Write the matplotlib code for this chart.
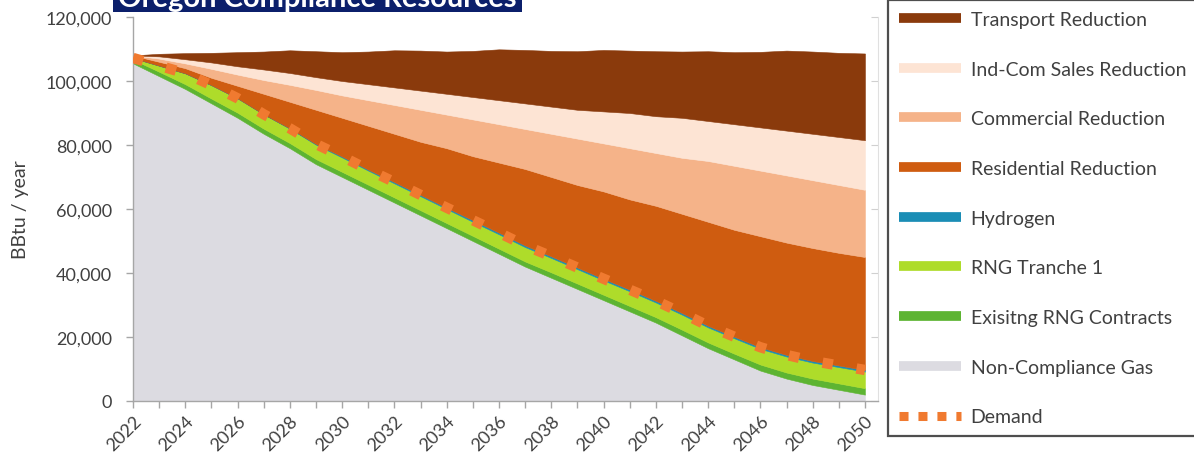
import matplotlib
matplotlib.use("Agg")
import matplotlib.pyplot as plt
import numpy as np
from matplotlib.lines import Line2D
from matplotlib.patches import Rectangle
from matplotlib.ticker import FuncFormatter, MultipleLocator

plt.rcParams['font.family'] = ['Lato', 'DejaVu Sans']

years = list(range(2022, 2051))

# Supply and reduction layers, thousand BBtu per year
non_compliance_gas = [105.5, 101.5, 97.5, 93.0, 88.5, 83.5, 79.0, 74.0, 70.0, 66.0,
                      62.0, 58.0, 54.0, 50.0, 46.0, 42.0, 38.5, 35.0, 31.5, 28.0,
                      24.5, 20.5, 16.5, 13.0, 9.5, 7.0, 5.0, 3.5, 2.0]
existing_rng = [1.2, 1.4, 1.5, 1.5, 1.6, 1.6, 1.6, 1.6, 1.6, 1.6,
                1.6, 1.6, 1.6, 1.6, 1.6, 1.6, 1.7, 1.7, 1.7, 1.7,
                1.7, 1.8, 1.8, 1.8, 1.9, 1.9, 2.0, 2.0, 2.0]
rng_tranche_1 = [0.5, 1.9, 3.4, 4.2, 4.5, 4.5, 4.5, 4.5, 4.5, 4.4,
                 4.4, 4.4, 4.4, 4.4, 4.5, 4.5, 4.5, 4.5, 4.5, 4.6,
                 4.6, 4.7, 4.7, 4.8, 4.9, 5.0, 5.0, 5.1, 5.2]
hydrogen = [0.0, 0.0, 0.0, 0.0, 0.0, 0.0, 0.1, 0.2, 0.3, 0.3,
            0.4, 0.4, 0.4, 0.5, 0.5, 0.5, 0.5, 0.5, 0.5, 0.5,
            0.5, 0.5, 0.5, 0.5, 0.5, 0.5, 0.5, 0.5, 0.5]
residential_reduction = [0.8, 1.2, 1.6, 2.3, 3.9, 6.4, 8.3, 10.7, 12.1, 13.7,
                         15.1, 16.6, 18.6, 20.0, 21.9, 23.9, 24.8, 25.8, 27.3, 28.2,
                         29.7, 31.0, 32.5, 33.4, 34.7, 35.1, 35.3, 35.2, 35.3]
commercial_reduction = [0.0, 1.0, 1.5, 2.8, 3.5, 4.3, 5.3, 6.2, 7.0, 8.0,
                        9.0, 10.0, 10.5, 11.5, 12.0, 12.5, 13.5, 14.5, 15.0, 16.0,
                        16.5, 17.5, 19.0, 20.0, 20.5, 21.0, 21.2, 21.2, 21.0]
indcom_sales_reduction = [0.0, 0.7, 1.3, 2.0, 2.6, 3.3, 3.7, 4.0, 4.5, 5.0,
                          5.5, 6.0, 6.5, 7.0, 7.5, 8.0, 8.5, 9.0, 10.0, 11.0,
                          11.5, 12.5, 12.5, 13.0, 13.5, 14.0, 14.5, 15.0, 15.5]
transport_reduction = [0.0, 0.8, 1.9, 3.0, 4.4, 5.6, 7.1, 8.1, 9.0, 10.2,
                       11.6, 12.5, 13.2, 14.4, 15.9, 16.7, 17.4, 18.3, 19.2, 19.5,
                       20.3, 20.7, 21.8, 22.5, 23.6, 25.0, 25.7, 26.3, 27.1]
demand = [107.2, 104.8, 102.4, 98.7, 94.6, 89.6, 85.2, 80.3, 76.4, 72.3,
          68.4, 64.4, 60.4, 56.5, 52.6, 48.6, 45.2, 41.7, 38.2, 34.8,
          31.3, 27.5, 23.5, 20.1, 16.8, 14.4, 12.5, 11.1, 9.7]

labels = ["Non-Compliance Gas", "Exisitng RNG Contracts", "RNG Tranche 1", "Hydrogen",
          "Residential Reduction", "Commercial Reduction", "Ind-Com Sales Reduction",
          "Transport Reduction"]
colors = ["#DCDBE1", "#5DB432", "#AEDC2A", "#1A8DB5",
          "#CF5C10", "#F5B389", "#FDE4D4", "#8A3A0C"]
layers = [non_compliance_gas, existing_rng, rng_tranche_1, hydrogen,
          residential_reduction, commercial_reduction, indcom_sales_reduction,
          transport_reduction]
layers_bbtu = [np.array(v) * 1000 for v in layers]
demand_bbtu = np.array(demand) * 1000
demand_color = "#F07A30"

W, H = 1194, 464
fig = plt.figure(figsize=(W / 100, H / 100), dpi=100)
ax = fig.add_axes([133 / W, 62 / H, (878 - 133) / W, (402 - 18) / H])

polys = ax.stackplot(years, *layers_bbtu, colors=colors, labels=labels)
for p, c in zip(polys, colors):
    p.set_edgecolor(c)
    p.set_linewidth(0.4)

ax.plot(years, demand_bbtu, color=demand_color, lw=7.5, ls=(0, (1, 2.3)),
        dash_capstyle='butt', zorder=5)

ax.set_xlim(2022, 2050.5)
ax.set_ylim(0, 120000)

axis_gray = "#A6A6A6"
for s in ["top", "right"]:
    ax.spines[s].set_visible(False)
for s in ["left", "bottom"]:
    ax.spines[s].set_color(axis_gray)
    ax.spines[s].set_linewidth(1.0)

ax.xaxis.set_major_locator(MultipleLocator(2))
ax.xaxis.set_minor_locator(MultipleLocator(1))
ax.yaxis.set_major_locator(MultipleLocator(20000))
ax.yaxis.set_major_formatter(FuncFormatter(lambda v, p: f"{int(v):,}"))
ax.tick_params(axis='both', which='both', color=axis_gray, length=5, width=1.0,
               labelcolor="#404040", labelsize=13)
ax.tick_params(axis='y', pad=10)
ax.tick_params(axis='x', pad=3)
for t in ax.get_xticklabels():
    t.set_rotation(45)
    t.set_ha('right')
    t.set_rotation_mode('anchor')

sec = ax.secondary_yaxis('right')
sec.yaxis.set_major_locator(MultipleLocator(20000))
sec.tick_params(direction='in', length=5, color="#D0D0D0", labelright=False)
sec.spines['right'].set_color("#E0E0E0")

ax.set_ylabel("BBtu / year", fontsize=14, color="#404040", labelpad=12)

# Title banner
fig.patches.append(Rectangle((113 / W, 1 - 13 / H), (522 - 113) / W, 40 / H,
                             transform=fig.transFigure, facecolor="#0B1F6B",
                             edgecolor="none", zorder=10))
fig.text((113 + 522) / 2 / W, 1 - 7 / H, "Oregon Compliance Resources",
         ha='center', va='baseline', fontsize=21, fontweight='bold',
         color='white', zorder=11)

# Legend
handles = [Line2D([0], [0], color=c, lw=7, solid_capstyle='butt')
           for c in colors[::-1]]
handles.append(Line2D([0], [0], color=demand_color, lw=6.5, ls=(0, (1, 1.1)),
                      dash_capstyle='butt'))
leg_labels = labels[::-1] + ["Demand"]
leg = fig.legend(handles, leg_labels, loc='lower left',
                 bbox_to_anchor=(888 / W, 27 / H), bbox_transform=fig.transFigure,
                 fontsize=14, frameon=True, fancybox=False, edgecolor="#222222",
                 handlelength=3.2, handletextpad=0.5, labelspacing=1.68,
                 borderpad=0.55, borderaxespad=0)
leg.get_frame().set_linewidth(1.6)
for t in leg.get_texts():
    t.set_color("#404040")

fig.savefig("out.png", dpi=100)
